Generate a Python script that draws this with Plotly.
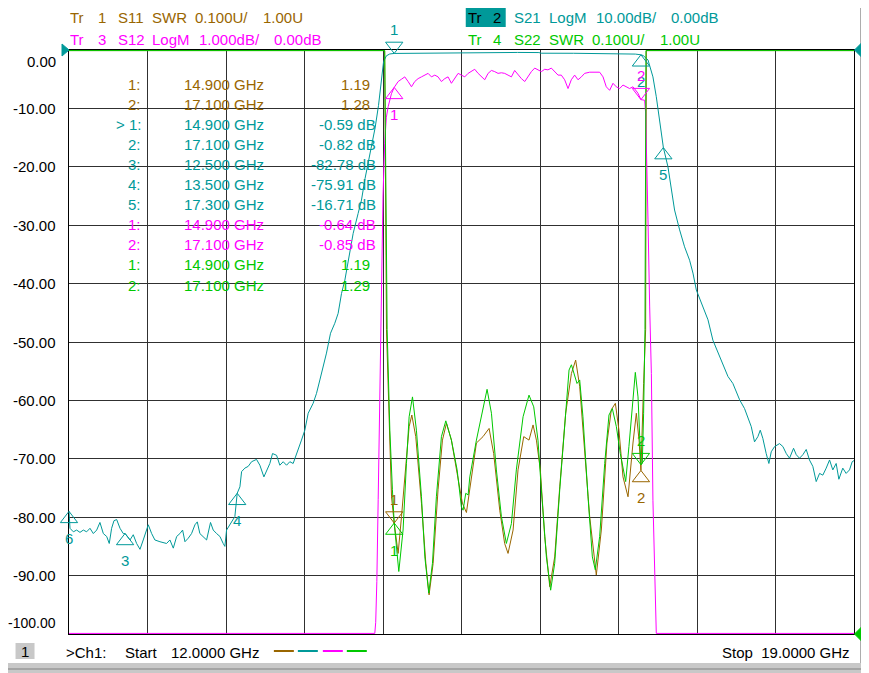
import numpy as np
import plotly.graph_objects as go

# ---- values, sweep 12-19 GHz ----

# Tr1 S11 SWR (0.1 U/div, 1.00 U on the bottom line). 2.0 = off scale, drawn on the top edge
s11_f = [12.0, 14.815, 14.831, 14.855, 14.876, 14.900, 14.935, 14.965, 15.003, 15.033, 15.057,
         15.092, 15.143, 15.182, 15.211, 15.247, 15.291, 15.330, 15.366, 15.410, 15.461, 15.508,
         15.544, 15.588, 15.633, 15.692, 15.746, 15.787, 15.841, 15.885, 15.915, 15.960, 16.004,
         16.055, 16.102, 16.138, 16.168, 16.203, 16.242, 16.287, 16.331, 16.376, 16.429, 16.480,
         16.518, 16.554, 16.598, 16.643, 16.702, 16.747, 16.797, 16.836, 16.872, 16.904, 16.940,
         16.985, 17.029, 17.059, 17.083, 17.100, 17.124, 17.142, 17.148, 19.0]
s11_swr = [2.0, 2.0, 1.521, 1.349, 1.235, 1.190, 1.138, 1.201, 1.281, 1.355, 1.375,
           1.338, 1.224, 1.121, 1.067, 1.121, 1.247, 1.332, 1.361, 1.332, 1.275, 1.224,
           1.208, 1.264, 1.327, 1.338, 1.352, 1.309, 1.212, 1.155, 1.138, 1.178, 1.281,
           1.338, 1.332, 1.358, 1.332, 1.281, 1.167, 1.081, 1.132, 1.252, 1.378, 1.446,
           1.469, 1.424, 1.315, 1.201, 1.101, 1.178, 1.327, 1.384, 1.395, 1.349, 1.269,
           1.235, 1.327, 1.378, 1.332, 1.280, 1.429, 1.521, 2.0, 2.0]

# Tr2 S21 LogM (10 dB/div, 0 dB on the top line)
s21_f = [12.000, 12.009, 12.039, 12.068, 12.098, 12.128, 12.157, 12.187, 12.217, 12.247, 12.276,
         12.306, 12.336, 12.359, 12.380, 12.401, 12.425, 12.455, 12.484, 12.500, 12.544, 12.573,
         12.603, 12.633, 12.662, 12.692, 12.707, 12.737, 12.766, 12.811, 12.870, 12.900, 12.930,
         12.960, 12.989, 13.013, 13.034, 13.063, 13.093, 13.123, 13.144, 13.167, 13.197, 13.227,
         13.262, 13.286, 13.316, 13.346, 13.375, 13.390, 13.405, 13.435, 13.464, 13.479, 13.500,
         13.524, 13.539, 13.568, 13.598, 13.628, 13.672, 13.702, 13.738, 13.761, 13.791, 13.815,
         13.851, 13.880, 13.910, 13.940, 13.969, 13.999, 14.023, 14.044, 14.073, 14.103, 14.133,
         14.177, 14.207, 14.237, 14.266, 14.296, 14.332, 14.370, 14.400, 14.430, 14.460, 14.489,
         14.534, 14.578, 14.608, 14.640, 14.680, 14.730, 14.760, 14.785, 14.805, 14.830, 14.860,
         14.900, 14.950, 15.100, 15.300, 15.480, 15.500, 15.800, 16.000, 16.190, 16.210, 16.500,
         16.800, 16.950, 17.050, 17.100, 17.120, 17.163, 17.207, 17.237, 17.267, 17.300, 17.341,
         17.371, 17.400, 17.445, 17.489, 17.534, 17.564, 17.594, 17.638, 17.698, 17.742, 17.787,
         17.831, 17.876, 17.920, 17.980, 18.024, 18.054, 18.084, 18.113, 18.143, 18.164, 18.187,
         18.217, 18.241, 18.262, 18.292, 18.336, 18.366, 18.396, 18.425, 18.461, 18.485, 18.514,
         18.544, 18.574, 18.603, 18.633, 18.663, 18.693, 18.722, 18.752, 18.782, 18.811, 18.841,
         18.865, 18.900, 18.930, 18.960, 18.984, 19.000]
s21_db = [-79.0, -81.9, -82.5, -82.2, -82.6, -82.2, -82.5, -81.9, -82.8, -82.2, -80.9,
          -82.8, -83.3, -84.5, -81.9, -80.6, -80.4, -81.9, -82.8, -82.8, -83.9, -83.0,
          -84.5, -85.5, -83.9, -81.9, -81.3, -82.8, -83.9, -84.2, -84.5, -83.9, -85.3,
          -83.3, -82.8, -82.2, -84.2, -83.6, -82.8, -81.3, -80.8, -82.8, -83.3, -83.9,
          -80.9, -82.2, -82.8, -83.3, -84.5, -85.0, -82.2, -81.3, -80.5, -79.9, -75.9,
          -74.8, -72.2, -71.6, -71.3, -70.5, -70.1, -71.1, -73.1, -72.2, -70.8, -69.1,
          -69.4, -71.1, -70.5, -71.1, -70.5, -70.8, -69.6, -68.2, -66.8, -65.1, -62.2,
          -60.5, -58.8, -56.5, -54.2, -51.9, -48.5, -46.8, -45.1, -41.7, -39.4, -36.5,
          -31.4, -28.0, -25.7, -22.0, -18.0, -13.3, -9.5, -5.0, -2.0, -1.0, -0.68,
          -0.59, -0.58, -0.56, -0.57, -0.55, -0.42, -0.40, -0.42, -0.44, -0.55, -0.56,
          -0.57, -0.62, -0.70, -0.82, -0.95, -1.7, -4.6, -8.0, -12.6, -16.7, -20.0,
          -23.4, -27.4, -30.8, -33.7, -36.0, -38.2, -41.1, -43.4, -46.2, -49.7, -51.7,
          -53.6, -55.9, -57.1, -59.9, -61.4, -63.1, -64.5, -67.1, -66.2, -65.1, -66.5,
          -69.1, -70.8, -68.8, -67.9, -67.4, -67.9, -69.1, -69.9, -68.2, -69.3, -69.9,
          -69.3, -68.4, -70.2, -71.3, -73.9, -72.5, -72.8, -71.6, -70.2, -71.9, -70.8,
          -73.5, -71.6, -72.5, -71.9, -70.5, -70.3]

# Tr3 S12 LogM (1 dB/div, 0 dB on the top line). -10 = off scale, drawn on the bottom edge
s12_f = [12.0, 14.727, 14.735, 14.745, 14.757, 14.771, 14.787, 14.800, 14.815, 14.830, 14.846,
         14.875, 14.900, 14.935, 14.965, 14.994, 15.024, 15.054, 15.083, 15.113, 15.143, 15.172,
         15.202, 15.232, 15.262, 15.291, 15.321, 15.351, 15.380, 15.410, 15.440, 15.470, 15.499,
         15.529, 15.559, 15.588, 15.618, 15.648, 15.677, 15.707, 15.737, 15.767, 15.796, 15.826,
         15.856, 15.885, 15.915, 15.945, 15.974, 16.004, 16.034, 16.064, 16.093, 16.123, 16.153,
         16.182, 16.212, 16.242, 16.271, 16.301, 16.331, 16.361, 16.390, 16.420, 16.450, 16.479,
         16.509, 16.539, 16.569, 16.598, 16.643, 16.732, 16.762, 16.791, 16.821, 16.851, 16.880,
         16.910, 16.940, 16.970, 16.999, 17.029, 17.074, 17.100, 17.133, 17.142, 17.148, 17.163,
         17.178, 17.193, 17.207, 17.225, 17.237, 19.0]
s12_db = [-10.0, -10.0, -9.8, -9.1, -7.7, -6.0, -3.9, -2.5, -1.6, -1.15, -0.97,
          -0.75, -0.64, -0.54, -0.50, -0.46, -0.54, -0.63, -0.54, -0.49, -0.46, -0.43,
          -0.40, -0.46, -0.43, -0.46, -0.54, -0.49, -0.46, -0.57, -0.49, -0.40, -0.43,
          -0.46, -0.40, -0.37, -0.33, -0.40, -0.46, -0.51, -0.40, -0.35, -0.37, -0.40,
          -0.39, -0.40, -0.43, -0.46, -0.35, -0.43, -0.49, -0.54, -0.46, -0.37, -0.31,
          -0.34, -0.37, -0.33, -0.34, -0.31, -0.37, -0.43, -0.43, -0.51, -0.66, -0.51,
          -0.43, -0.51, -0.46, -0.40, -0.38, -0.38, -0.46, -0.63, -0.69, -0.57, -0.63,
          -0.66, -0.60, -0.63, -0.66, -0.63, -0.74, -0.85, -0.86, -1.08, -1.48, -2.91,
          -4.40, -5.54, -7.71, -9.2, -10.0, -10.0]

# Tr4 S22 SWR (0.1 U/div, 1.00 U on the bottom line)
s22_f = [12.0, 14.815, 14.837, 14.861, 14.884, 14.900, 14.941, 14.979, 15.009, 15.033, 15.063,
         15.098, 15.143, 15.173, 15.208, 15.241, 15.276, 15.321, 15.360, 15.410, 15.461, 15.499,
         15.514, 15.538, 15.559, 15.574, 15.633, 15.692, 15.728, 15.767, 15.811, 15.856, 15.900,
         15.945, 15.989, 16.049, 16.102, 16.144, 16.182, 16.212, 16.257, 16.295, 16.331, 16.376,
         16.420, 16.459, 16.480, 16.509, 16.530, 16.554, 16.583, 16.628, 16.667, 16.693, 16.732,
         16.777, 16.815, 16.845, 16.881, 16.916, 16.964, 16.993, 17.029, 17.050, 17.074, 17.094,
         17.100, 17.112, 17.124, 17.136, 17.145, 19.0]
s22_swr = [2.0, 2.0, 1.521, 1.349, 1.247, 1.190, 1.107, 1.178, 1.292, 1.372, 1.406,
           1.349, 1.235, 1.132, 1.070, 1.121, 1.235, 1.338, 1.365, 1.332, 1.281, 1.218,
           1.212, 1.241, 1.238, 1.269, 1.332, 1.389, 1.419, 1.378, 1.281, 1.201, 1.155,
           1.189, 1.281, 1.372, 1.409, 1.389, 1.332, 1.247, 1.132, 1.075, 1.121, 1.247,
           1.361, 1.452, 1.461, 1.441, 1.429, 1.435, 1.372, 1.235, 1.132, 1.110, 1.167,
           1.292, 1.375, 1.386, 1.355, 1.309, 1.261, 1.321, 1.406, 1.448, 1.406, 1.298,
           1.290, 1.292, 1.378, 1.521, 2.0, 2.0]

# markers: (number, GHz, value, triangle pointing 'down' = drawn above the trace)
s11_markers = [(1, 14.9, 1.19, "down"), (2, 17.1, 1.28, "up")]
s21_markers = [(1, 14.9, -0.59, "down"), (2, 17.1, -0.82, "up"), (3, 12.5, -82.78, "up"),
               (4, 13.5, -75.91, "up"), (5, 17.3, -16.71, "up")]
s21_extra = [(6, 12.0, -79.0, "up")]   # drawn, not in the readout list
s12_markers = [(1, 14.9, -0.64, "up"), (2, 17.1, -0.85, "down")]
s22_markers = [(1, 14.9, 1.19, "up"), (2, 17.1, 1.29, "down")]

y_ticks = [0, -10, -20, -30, -40, -50, -60, -70, -80, -90, -100]

BROWN = "#996600"
TEAL = "#009999"
MAGENTA = "#ff00ff"
GREEN = "#00c800"
FONT = "Liberation Sans, Arial, sans-serif"

# ---- screen geometry (page pixels) ----
W, H = 869, 673
OFF = 8                      # the html body margin the figure sits in
L, R, T, B = 69, 854.5, 50, 634


def px(x):
    return (x - L) / (R - L)


def py(y):
    return (B - y) / (B - T)


def on_grid(v):
    return np.clip(np.asarray(v, dtype=float), -99.9, -0.1)


def swr_grid(v):
    return on_grid((np.asarray(v) - 1.0) / 0.1 * 10 - 100)


def s21_grid(v):
    return on_grid(np.asarray(v))


def s12_grid(v):
    return on_grid(np.asarray(v) / 1.0 * 10)


fig = go.Figure()

traces = [
    (s11_f, swr_grid(s11_swr), BROWN),
    (s21_f, s21_grid(s21_db), TEAL),
    (s12_f, s12_grid(s12_db), MAGENTA),
    (s22_f, swr_grid(s22_swr), GREEN),
]
for f, g, c in traces:
    fig.add_trace(go.Scatter(x=f, y=g, mode="lines", line=dict(color=c, width=1),
                             hoverinfo="skip", showlegend=False))

annotations = []
MSIZE = 15

mk_sets = [
    (s11_markers, swr_grid, BROWN),
    (s21_markers + s21_extra, s21_grid, TEAL),
    (s12_markers, s12_grid, MAGENTA),
    (s22_markers, swr_grid, GREEN),
]
for mks, conv, c in mk_sets:
    for num, f, v, d in mks:
        g = float(conv([v])[0])
        # triangle tip sits on the trace point; standoff pushes the body away from it
        angle, shift = (180, 24) if d == "down" else (0, -27)
        fig.add_trace(go.Scatter(x=[f], y=[g], mode="markers", cliponaxis=False,
                                 marker=dict(symbol="triangle-up-open", size=MSIZE, color=c,
                                             angle=angle, standoff=MSIZE / 2,
                                             line=dict(width=1, color=c)),
                                 hoverinfo="skip", showlegend=False))
        annotations.append(dict(x=f, y=g, xref="x", yref="y", yshift=shift, text=str(num),
                                showarrow=False, font=dict(family=FONT, size=15, color=c)))

# y scale labels
for v in y_ticks:
    shift = -11 if v == 0 else (11 if v == -100 else 0)
    annotations.append(dict(x=px(57), y=v, xref="paper", yref="y", yshift=shift,
                            xanchor="right", yanchor="middle", text=f"{v:.2f}",
                            showarrow=False, borderpad=0,
                            font=dict(family=FONT, size=14 if v == -100 else 15, color="black")))


def label(x, y, text, color, anchor="left", size=15):
    annotations.append(dict(x=px(x), y=py(y), xref="paper", yref="paper", text=text,
                            xanchor=anchor, yanchor="middle", showarrow=False, borderpad=0,
                            font=dict(family=FONT, size=size, color=color)))


# trace header lines
header = [
    (17, BROWN, [(69, "Tr"), (97, "1"), (117, "S11"), (151, "SWR"), (194, "0.100U/"), (262, "1.00U")]),
    (17, TEAL, [(513, "S21"), (548, "LogM"), (595, "10.00dB/"), (670, "0.00dB")]),
    (39, MAGENTA, [(69, "Tr"), (97, "3"), (117, "S12"), (151, "LogM"), (198, "1.000dB/"), (273, "0.00dB")]),
    (39, GREEN, [(467, "Tr"), (492, "4"), (513, "S22"), (548, "SWR"), (591, "0.100U/"), (659, "1.00U")]),
]
for y, c, words in header:
    for x, t in words:
        label(x, y, t, c)
label(467, 17, "Tr", "black")
label(492, 17, "2", "black")

# marker readout table
rows = ([(BROWN, m, "swr") for m in s11_markers] +
        [(TEAL, m, "db") for m in s21_markers] +
        [(MAGENTA, m, "db") for m in s12_markers] +
        [(GREEN, m, "swr") for m in s22_markers])
for i, (c, (num, f, v, _), kind) in enumerate(rows):
    y = 84 + 20.1 * i
    tag = f"> {num}:" if (c == TEAL and num == 1) else f"{num}:"
    label(142, y, tag, c, "right")
    label(183, y, f"{f:.3f} GHz", c)
    if kind == "swr":
        label(371, y, f"{v:.2f}", c, "right")
    else:
        label(377, y, f"{v:.2f} dB", c, "right")

# bottom status line
label(25, 651, "1", "black", "center")
label(65, 652, ">Ch1:", "black")
label(124, 652, "Start", "black")
label(170, 652, "12.0000 GHz", "black")
label(851, 652, "Stop  19.0000 GHz", "black", "right")

shapes = [
    # window frame (right and bottom bands)
    dict(type="rect", xref="paper", yref="paper", x0=px(862), x1=px(869), y0=py(673), y1=py(0),
         fillcolor="#c8c8c8", line_width=0),
    dict(type="rect", xref="paper", yref="paper", x0=px(0), x1=px(869), y0=py(673), y1=py(663),
         fillcolor="#c8c8c8", line_width=0),
    dict(type="line", xref="paper", yref="paper", x0=px(861.5), x1=px(861.5), y0=py(663), y1=py(8),
         line=dict(color="#606060", width=1)),
    dict(type="line", xref="paper", yref="paper", x0=px(0), x1=px(869), y0=py(669), y1=py(669),
         line=dict(color="#808080", width=1)),
    # active trace tag
    dict(type="rect", xref="paper", yref="paper", x0=px(466), x1=px(506), y0=py(27), y1=py(7),
         fillcolor=TEAL, line_width=0, layer="below"),
    # channel number box
    dict(type="rect", xref="paper", yref="paper", x0=px(15.5), x1=px(34.5), y0=py(659), y1=py(643),
         fillcolor="#c8c8c8", line_width=0, layer="below"),
    # reference position arrows
    dict(type="path", xref="paper", yref="paper", fillcolor=TEAL, line=dict(color=TEAL, width=1),
         path=f"M {px(62)} {py(44)} L {px(69)} {py(50)} L {px(62)} {py(56)} Z"),
    dict(type="path", xref="paper", yref="paper", fillcolor=TEAL, line=dict(color=TEAL, width=1),
         path=f"M {px(862)} {py(43)} L {px(855)} {py(50)} L {px(862)} {py(57)} Z"),
    dict(type="path", xref="paper", yref="paper", fillcolor=GREEN, line=dict(color=GREEN, width=1),
         path=f"M {px(862)} {py(627)} L {px(855)} {py(634)} L {px(862)} {py(641)} Z"),
]
# trace colour keys in the status line
for (x0, x1), c in zip([(274, 294), (298, 318), (323, 343), (347, 367)], [BROWN, TEAL, MAGENTA, GREEN]):
    shapes.append(dict(type="line", xref="paper", yref="paper", x0=px(x0), x1=px(x1),
                       y0=py(651), y1=py(651), line=dict(color=c, width=2)))

axis = dict(showticklabels=False, ticks="", showgrid=True, gridcolor="#303030", gridwidth=1,
            showline=True, mirror=True, linecolor="black", linewidth=1, zeroline=False,
            layer="below traces", fixedrange=True)

fig.update_layout(
    width=W - OFF, height=H - OFF,
    margin=dict(l=L - OFF, r=W - R, t=T - OFF, b=H - B, pad=0),
    paper_bgcolor="white", plot_bgcolor="white",
    xaxis=dict(range=[12, 19], tick0=12, dtick=0.7, **axis),
    yaxis=dict(range=[-100, 0], tick0=0, dtick=10, **axis),
    annotations=annotations, shapes=shapes,
    showlegend=False,
)

fig.write_html("out.html")
